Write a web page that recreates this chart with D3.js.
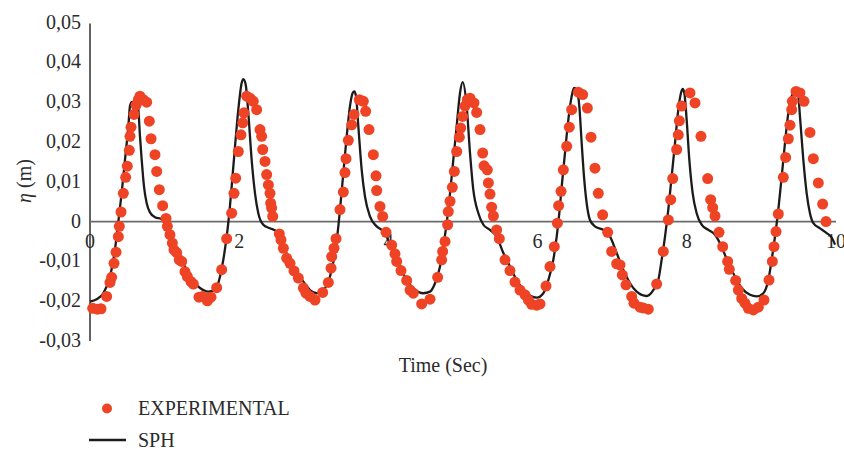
<!DOCTYPE html>
<html>
<head>
<meta charset="utf-8">
<script src="https://cdn.jsdelivr.net/npm/d3@7"></script>
<style>
  html, body { margin: 0; padding: 0; background: #fff; }
  svg { display: block; }
  text { font-family: "Liberation Serif", "DejaVu Serif", serif; fill: #2b2b2b; }
</style>
</head>
<body>
<div id="chart"></div>
<script>
// Free-surface elevation at the probe: measured samples and the SPH result
const expTime = [
  0.036, 0.098, 0.147, 0.223, 0.268, 0.290, 0.322, 0.349, 0.380, 0.393, 0.416, 0.447, 0.478, 0.500,
  0.527, 0.536, 0.550, 0.590, 0.617, 0.648, 0.670, 0.715, 0.760, 0.795, 0.818, 0.871, 0.894, 0.929,
  0.974, 1.019, 1.037, 1.072, 1.104, 1.126, 1.162, 1.197, 1.229, 1.273, 1.305, 1.354, 1.385, 1.461,
  1.510, 1.573, 1.622, 1.698, 1.765, 1.832, 1.899, 1.930, 1.953, 1.988, 2.024, 2.047, 2.064, 2.100,
  2.145, 2.189, 2.234, 2.279, 2.301, 2.315, 2.346, 2.368, 2.391, 2.413, 2.422, 2.435, 2.449, 2.538,
  2.560, 2.592, 2.636, 2.681, 2.735, 2.793, 2.860, 2.895, 2.949, 3.016, 3.119, 3.195, 3.231, 3.240,
  3.271, 3.298, 3.351, 3.396, 3.418, 3.432, 3.463, 3.508, 3.539, 3.610, 3.664, 3.695, 3.740, 3.798,
  3.834, 3.843, 3.887, 3.923, 3.968, 4.044, 4.088, 4.111, 4.169, 4.245, 4.290, 4.334, 4.446, 4.558,
  4.660, 4.714, 4.727, 4.759, 4.794, 4.803, 4.826, 4.857, 4.884, 4.915, 4.951, 4.969, 4.996, 5.027,
  5.058, 5.094, 5.147, 5.183, 5.228, 5.264, 5.282, 5.326, 5.340, 5.362, 5.384, 5.407, 5.451, 5.487,
  5.563, 5.630, 5.697, 5.764, 5.831, 5.876, 5.920, 5.988, 6.032, 6.113, 6.166, 6.224, 6.265, 6.282,
  6.314, 6.345, 6.390, 6.425, 6.457, 6.546, 6.604, 6.667, 6.716, 6.769, 6.814, 6.872, 6.939, 6.993,
  7.060, 7.105, 7.136, 7.185, 7.261, 7.292, 7.372, 7.417, 7.484, 7.596, 7.685, 7.752, 7.784, 7.811,
  7.864, 7.886, 7.900, 7.931, 8.043, 8.110, 8.190, 8.280, 8.320, 8.347, 8.378, 8.432, 8.481, 8.548,
  8.570, 8.655, 8.691, 8.736, 8.780, 8.825, 8.892, 8.959, 9.035, 9.102, 9.147, 9.169, 9.196, 9.227,
  9.294, 9.325, 9.361, 9.383, 9.406, 9.415, 9.464, 9.517, 9.571, 9.651, 9.696, 9.763, 9.821, 9.866
];
const expEta = [
  -0.0218, -0.0220, -0.0219, -0.0188, -0.0153, -0.0140, -0.0105, -0.0077, -0.0038, -0.0012, 0.0024, 0.0071, 0.0111, 0.0139,
  0.0179, 0.0214, 0.0237, 0.0269, 0.0292, 0.0306, 0.0315, 0.0306, 0.0300, 0.0252, 0.0208, 0.0168, 0.0126, 0.0080,
  0.0040, 0.0008, -0.0012, -0.0033, -0.0054, -0.0071, -0.0078, -0.0096, -0.0100, -0.0126, -0.0138, -0.0151, -0.0157, -0.0190,
  -0.0188, -0.0199, -0.0190, -0.0166, -0.0121, -0.0043, 0.0021, 0.0071, 0.0109, 0.0176, 0.0218, 0.0248, 0.0273, 0.0315,
  0.0310, 0.0302, 0.0281, 0.0231, 0.0214, 0.0181, 0.0151, 0.0118, 0.0092, 0.0071, 0.0046, 0.0034, 0.0013, -0.0031,
  -0.0046, -0.0067, -0.0092, -0.0105, -0.0124, -0.0142, -0.0167, -0.0180, -0.0188, -0.0197, -0.0178, -0.0153, -0.0117, -0.0088,
  -0.0067, -0.0043, 0.0030, 0.0074, 0.0123, 0.0158, 0.0204, 0.0243, 0.0269, 0.0306, 0.0302, 0.0277, 0.0231, 0.0168,
  0.0115, 0.0078, 0.0038, 0.0013, -0.0027, -0.0059, -0.0081, -0.0100, -0.0123, -0.0148, -0.0172, -0.0180, -0.0207, -0.0195,
  -0.0140, -0.0096, -0.0075, -0.0050, -0.0008, 0.0025, 0.0051, 0.0086, 0.0126, 0.0176, 0.0212, 0.0235, 0.0264, 0.0290,
  0.0306, 0.0310, 0.0298, 0.0274, 0.0231, 0.0172, 0.0140, 0.0130, 0.0097, 0.0069, 0.0036, 0.0014, -0.0021, -0.0043,
  -0.0096, -0.0123, -0.0152, -0.0172, -0.0184, -0.0197, -0.0208, -0.0210, -0.0207, -0.0162, -0.0113, -0.0063, -0.0004, 0.0040,
  0.0076, 0.0130, 0.0189, 0.0237, 0.0281, 0.0325, 0.0319, 0.0285, 0.0212, 0.0134, 0.0071, 0.0017, -0.0027, -0.0075,
  -0.0106, -0.0109, -0.0134, -0.0159, -0.0188, -0.0205, -0.0215, -0.0217, -0.0220, -0.0157, -0.0075, 0.0004, 0.0055, 0.0108,
  0.0181, 0.0218, 0.0253, 0.0290, 0.0323, 0.0298, 0.0214, 0.0108, 0.0055, 0.0035, 0.0014, -0.0027, -0.0063, -0.0100,
  -0.0120, -0.0148, -0.0172, -0.0193, -0.0205, -0.0218, -0.0222, -0.0215, -0.0197, -0.0147, -0.0100, -0.0063, -0.0025, 0.0019,
  0.0111, 0.0161, 0.0208, 0.0242, 0.0281, 0.0302, 0.0327, 0.0323, 0.0302, 0.0224, 0.0158, 0.0097, 0.0044, 0.0000
];

const sphTime = [
  0.000, 0.089, 0.179, 0.268, 0.313, 0.357, 0.380, 0.424, 0.469, 0.514, 0.536, 0.559, 0.626, 0.648,
  0.670, 0.693, 0.724, 0.760, 0.804, 0.871, 0.961, 1.028, 1.117, 1.206, 1.296, 1.385, 1.475, 1.586,
  1.676, 1.743, 1.787, 1.832, 1.863, 1.899, 1.944, 1.988, 2.033, 2.055, 2.087, 2.122, 2.167, 2.212,
  2.256, 2.323, 2.413, 2.502, 2.592, 2.681, 2.770, 2.860, 2.949, 3.038, 3.128, 3.217, 3.284, 3.329,
  3.351, 3.396, 3.441, 3.485, 3.521, 3.543, 3.566, 3.597, 3.642, 3.686, 3.753, 3.843, 3.910, 3.977,
  4.066, 4.155, 4.245, 4.334, 4.468, 4.558, 4.625, 4.692, 4.736, 4.781, 4.826, 4.870, 4.915, 4.960,
  4.996, 5.049, 5.094, 5.138, 5.206, 5.273, 5.362, 5.451, 5.541, 5.630, 5.719, 5.831, 5.988, 6.077,
  6.144, 6.211, 6.256, 6.291, 6.323, 6.367, 6.412, 6.457, 6.488, 6.524, 6.559, 6.591, 6.622, 6.658,
  6.702, 6.769, 6.881, 6.971, 7.060, 7.149, 7.239, 7.328, 7.462, 7.551, 7.618, 7.663, 7.708, 7.752,
  7.797, 7.842, 7.886, 7.922, 7.945, 7.967, 7.998, 8.034, 8.079, 8.132, 8.199, 8.289, 8.378, 8.467,
  8.557, 8.646, 8.736, 8.847, 8.937, 9.026, 9.093, 9.138, 9.182, 9.227, 9.272, 9.316, 9.361, 9.406,
  9.464, 9.495, 9.517, 9.562, 9.607, 9.651, 9.696, 9.786, 9.875, 9.942, 9.987
];
const sphEta = [
  -0.0201, -0.0195, -0.0180, -0.0138, -0.0096, -0.0038, 0.0000, 0.0071, 0.0155, 0.0239, 0.0290, 0.0300, 0.0302, 0.0281,
  0.0214, 0.0155, 0.0088, 0.0046, 0.0023, 0.0011, 0.0006, -0.0012, -0.0046, -0.0088, -0.0121, -0.0151, -0.0167, -0.0176,
  -0.0172, -0.0138, -0.0096, -0.0038, 0.0013, 0.0088, 0.0189, 0.0281, 0.0348, 0.0358, 0.0344, 0.0273, 0.0155, 0.0071,
  0.0021, -0.0008, -0.0017, -0.0025, -0.0063, -0.0096, -0.0126, -0.0151, -0.0172, -0.0180, -0.0172, -0.0138, -0.0079, -0.0012,
  0.0030, 0.0122, 0.0214, 0.0290, 0.0323, 0.0327, 0.0315, 0.0239, 0.0130, 0.0063, 0.0013, -0.0012, -0.0021, -0.0038,
  -0.0079, -0.0113, -0.0147, -0.0167, -0.0180, -0.0176, -0.0155, -0.0113, -0.0063, -0.0004, 0.0071, 0.0155, 0.0239, 0.0323,
  0.0350, 0.0290, 0.0172, 0.0080, 0.0021, -0.0008, -0.0021, -0.0038, -0.0079, -0.0113, -0.0147, -0.0176, -0.0191, -0.0180,
  -0.0147, -0.0096, -0.0038, 0.0021, 0.0088, 0.0172, 0.0256, 0.0315, 0.0336, 0.0331, 0.0290, 0.0197, 0.0113, 0.0046,
  0.0004, -0.0012, -0.0021, -0.0038, -0.0079, -0.0121, -0.0155, -0.0176, -0.0187, -0.0172, -0.0147, -0.0096, -0.0038, 0.0030,
  0.0113, 0.0197, 0.0281, 0.0323, 0.0333, 0.0323, 0.0256, 0.0155, 0.0071, 0.0021, -0.0008, -0.0021, -0.0033, -0.0063,
  -0.0105, -0.0138, -0.0167, -0.0184, -0.0188, -0.0180, -0.0147, -0.0096, -0.0038, 0.0030, 0.0113, 0.0197, 0.0273, 0.0315,
  0.0331, 0.0315, 0.0264, 0.0155, 0.0071, 0.0021, -0.0004, -0.0017, -0.0029, -0.0040, -0.0058
];

const xTicks = [0, 2, 4, 6, 8, 10];
const yTicks = [-0.03, -0.02, -0.01, 0, 0.01, 0.02, 0.03, 0.04, 0.05];
const seriesNames = ["EXPERIMENTAL", "SPH"];

const W = 844, H = 451;
const expColor = "#ee4425";
const sphColor = "#1b1b1b";

const svg = d3.select("#chart").append("svg")
  .attr("width", W).attr("height", H)
  .attr("viewBox", `0 0 ${W} ${H}`);
svg.append("rect").attr("width", W).attr("height", H).attr("fill", "#fff");

const x = d3.scaleLinear().domain([0, 10]).range([90, 836]);
const y = d3.scaleLinear().domain([-0.03, 0.05]).range([341, 22.5]);

const locale = d3.formatLocale({ decimal: ",", thousands: ".", grouping: [3], currency: ["", ""], minus: "-" });
const f2 = locale.format(".2f");
const yLabel = v => (Math.abs(v) < 1e-9 ? "0" : f2(v));

// y axis: vertical rule with comma-decimal labels
svg.append("line")
  .attr("x1", x(0)).attr("x2", x(0))
  .attr("y1", y(0.05) + 1).attr("y2", y(-0.03))
  .attr("stroke", "#222").attr("stroke-width", 1.4);

svg.append("g").selectAll("text").data(yTicks).join("text")
  .attr("x", 81)
  .attr("y", d => y(d) - 1)
  .attr("text-anchor", "end")
  .attr("dominant-baseline", "central")
  .attr("font-size", 20)
  .text(yLabel);

// zero line acting as the x axis
svg.append("line")
  .attr("x1", x(0)).attr("x2", x(10))
  .attr("y1", y(0)).attr("y2", y(0))
  .attr("stroke", "#6b6b6b").attr("stroke-width", 1.8);

svg.append("g").selectAll("text").data(xTicks).join("text")
  .attr("x", d => x(d))
  .attr("y", y(0) + 19)
  .attr("text-anchor", "middle")
  .attr("dominant-baseline", "central")
  .attr("font-size", 20)
  .text(d => String(d));

// SPH simulation curve
const sph = sphTime.map((t, i) => [t, sphEta[i]]);
svg.append("path")
  .datum(sph)
  .attr("fill", "none")
  .attr("stroke", sphColor)
  .attr("stroke-width", 2.3)
  .attr("stroke-linejoin", "round")
  .attr("d", d3.line().x(d => x(d[0])).y(d => y(d[1])).curve(d3.curveMonotoneX));

// experimental gauge samples
const exp = expTime.map((t, i) => [t, expEta[i]]);
svg.append("g").selectAll("circle").data(exp).join("circle")
  .attr("cx", d => x(d[0]))
  .attr("cy", d => y(d[1]))
  .attr("r", 5.5)
  .attr("fill", expColor);

// axis titles
svg.append("text")
  .attr("x", 443).attr("y", 372)
  .attr("text-anchor", "middle")
  .attr("font-size", 20)
  .text("Time (Sec)");

const yt = svg.append("text")
  .attr("transform", "translate(31,181) rotate(-90)")
  .attr("text-anchor", "middle")
  .attr("font-size", 20);
yt.append("tspan").attr("font-style", "italic").text("η");
yt.append("tspan").text(" (m)");

// legend
const lg = svg.append("g");
lg.append("circle").attr("cx", 107).attr("cy", 408.5).attr("r", 5).attr("fill", expColor);
lg.append("text").attr("x", 138).attr("y", 415).attr("font-size", 20).text(seriesNames[0]);
lg.append("line").attr("x1", 89).attr("x2", 126).attr("y1", 440).attr("y2", 440)
  .attr("stroke", sphColor).attr("stroke-width", 2.3);
lg.append("text").attr("x", 138).attr("y", 446.5).attr("font-size", 20).text(seriesNames[1]);
</script>
</body>
</html>
